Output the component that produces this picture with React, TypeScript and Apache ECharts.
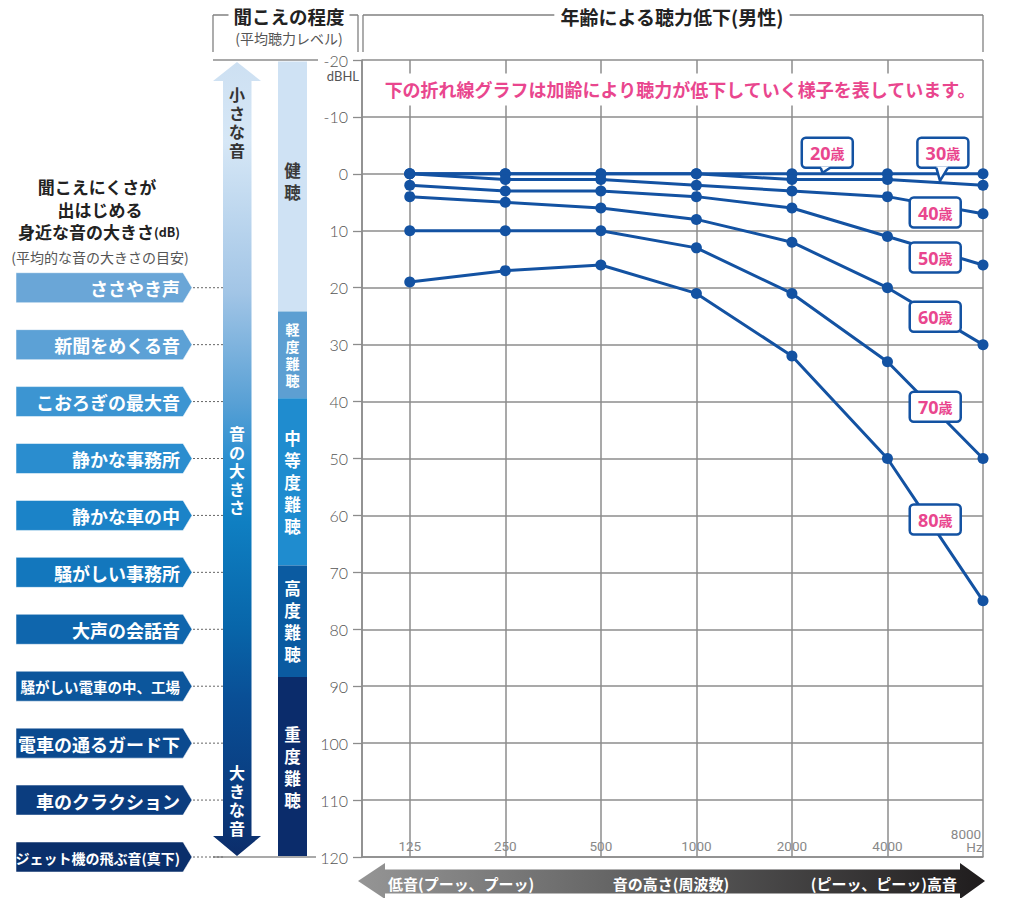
import React, { useEffect, useRef } from 'react';
import * as echarts from 'echarts';

// ---------- data ----------
const frequencies = ['125', '250', '500', '1000', '2000', '4000', '8000'];
const ageGroups = ['20歳', '30歳', '40歳', '50歳', '60歳', '70歳', '80歳'];
const hearing20 = [0, 0, 0, 0, 0, 0, 0];
const hearing30 = [0, 0, 0, 0, 1, 1, 2];
const hearing40 = [0, 1, 1, 2, 3, 4, 7];
const hearing50 = [2, 3, 3, 4, 6, 11, 16];
const hearing60 = [4, 5, 6, 8, 12, 20, 30];
const hearing70 = [10, 10, 10, 13, 21, 33, 50];
const hearing80 = [19, 17, 16, 21, 32, 50, 75];
const hearingSeries = [hearing20, hearing30, hearing40, hearing50, hearing60, hearing70, hearing80];

const yMin = -20;
const yMax = 120;
const yStep = 10;

// age label annotation positions (frequency index, dB)
const ageLabelFreq = [4.37, 5.58, 5.5, 5.5, 5.5, 5.5, 5.5];
const ageLabelDb = [-3.7, -3.7, 6.8, 14.7, 25.1, 40.9, 60.7];
const ageTipFreq = [4.32, 5.55];
const ageTipDb = [0, 1.4];

// everyday sound levels (dB)
const soundNames = [
  'ささやき声', '新聞をめくる音', 'こおろぎの最大音', '静かな事務所', '静かな車の中',
  '騒がしい事務所', '大声の会話音', '騒がしい電車の中、工場', '電車の通るガード下',
  '車のクラクション', 'ジェット機の飛ぶ音(真下)',
];
const soundLevels = [20, 30, 40, 50, 60, 70, 80, 90, 100, 110, 120];

// hearing level classes
const severityNames = ['健聴', '軽度難聴', '中等度難聴', '高度難聴', '重度難聴'];
const severityEdges = [-20, 24.2, 39.4, 68.8, 88.4, 120];

// ---------- styles ----------
const FONT = '"Noto Sans CJK JP", "Noto Sans", sans-serif';
const LINE_BLUE = '#1352a2';
const PINK = '#e9468e';
const GRID_GRAY = '#8c8c8c';
const soundColors = ['#6aa6d7', '#5ca1d6', '#3c95d2', '#2a8dcf', '#1b83c8', '#1377bd', '#0f66ad', '#0c569c', '#0b4a8f', '#0b3d7f', '#0a2f6b'];
const severityColors = ['#cfe2f4', '#5d9fd2', '#1f8ccf', '#0b5ba1', '#0b2c6b'];
const severityText = ['#3a3a3a', '#ffffff', '#ffffff', '#ffffff', '#ffffff'];
const severityLH = [22, 17, 22, 22, 22];
const severitySize = [16.5, 14, 16.5, 16.5, 16.5];

const T = (x: number, y: number, text: string, o: any = {}) => ({
  type: 'text',
  x,
  y,
  z: o.z ?? 20,
  style: {
    text,
    fill: o.fill ?? '#222',
    fontSize: o.size ?? 16,
    fontWeight: o.weight ?? 'bold',
    fontFamily: o.family ?? FONT,
    align: o.align ?? 'center',
    textAlign: o.align ?? 'center',
    verticalAlign: o.valign ?? 'middle',
    textVerticalAlign: o.valign ?? 'middle',
    lineHeight: o.lh,
    backgroundColor: o.bg,
    padding: o.pad,
    rich: o.rich,
  },
});

// vertical text: one element per character
const V = (x: number, cy: number, text: string, step: number, o: any = {}) => {
  const chars = text.split('');
  const y0 = cy - ((chars.length - 1) * step) / 2;
  return chars.map((c, i) => T(x, y0 + i * step, c, o));
};

const L = (x1: number, y1: number, x2: number, y2: number, o: any = {}) => ({
  type: 'line',
  z: o.z ?? 5,
  shape: { x1, y1, x2, y2 },
  style: { stroke: o.stroke ?? '#808080', lineWidth: o.w ?? 1.3, lineDash: o.dash },
});

export default function App() {
  const ref = useRef<HTMLDivElement>(null);

  useEffect(() => {
    if (!ref.current) return;
    const chart = echarts.init(ref.current, null, { renderer: 'svg' });

    const xCats: string[] = [];
    for (let i = 0; i < 14; i++) xCats.push(i % 2 === 1 ? frequencies[(i - 1) / 2] : '_' + i);

    const tickFont = '"Liberation Sans Narrow", Roboto, sans-serif';

    chart.setOption({
      animation: false,
      grid: { left: 362, right: 28, top: 60, bottom: 41, containLabel: false, outerBoundsMode: 'none' },
      xAxis: {
        type: 'category',
        data: xCats,
        boundaryGap: false,
        axisLine: { show: true, onZero: false, lineStyle: { color: GRID_GRAY, width: 1.5 } },
        axisTick: { show: false },
        splitLine: {
          show: true,
          interval: (i: number) => i % 2 === 1 || i === 0,
          lineStyle: { color: GRID_GRAY, width: 1.5 },
        },
        axisLabel: {
          inside: true,
          margin: 4,
          interval: (i: number) => i % 2 === 1,
          color: '#888',
          fontSize: 13.5,
          fontWeight: 'normal',
          fontFamily: tickFont,
          formatter: (v: string) => {
            if (v.startsWith('_')) return '';
            if (v === frequencies[frequencies.length - 1]) return '{a|' + v + '}\n{b|Hz}';
            return v;
          },
          rich: {
            a: { fontSize: 13.5, color: '#888', padding: [0, 34, 0, 0], lineHeight: 13, fontFamily: tickFont },
            b: { fontSize: 13.5, color: '#888', padding: [0, 17, 0, 0], lineHeight: 13, fontFamily: tickFont },
          },
        },
      },
      yAxis: {
        type: 'value',
        inverse: true,
        min: yMin,
        max: yMax,
        interval: yStep,
        axisLine: { show: true, lineStyle: { color: GRID_GRAY, width: 1.5 } },
        axisTick: { show: true, length: 9, lineStyle: { color: GRID_GRAY, width: 1.3 } },
        splitLine: { show: true, lineStyle: { color: GRID_GRAY, width: 1.5 } },
        axisLabel: { margin: 14, color: '#555', fontSize: 16, fontFamily: 'Lato, "Noto Sans", sans-serif', fontWeight: 300 },
      },
      series: ageGroups.map((name, k) => ({
        type: 'line',
        name,
        data: hearingSeries[k].map((v, i) => [2 * i + 1, v]),
        symbol: 'circle',
        symbolSize: 11,
        lineStyle: { color: LINE_BLUE, width: 3 },
        itemStyle: { color: LINE_BLUE },
        z: 3,
        silent: true,
      })),
    });

    const yPix = (v: number) => chart.convertToPixel({ yAxisIndex: 0 }, v) as number;
    const p1 = chart.convertToPixel({ xAxisIndex: 0 }, frequencies[0]) as number;
    const p3 = chart.convertToPixel({ xAxisIndex: 0 }, frequencies[1]) as number;
    const xPix = (f: number) => p1 + (p3 - p1) * f; // frequency index -> pixel

    const els: any[] = [];
    const yTop = yPix(yMin);
    const yBot = yPix(yMax);
    const plotLeft = xPix(-0.5);
    const plotRight = xPix(frequencies.length - 1);

    // ---------- headers ----------
    els.push(L(213, 15, 213, 52), L(213, 15, 358, 15), L(358, 15, 358, 52));
    els.push(T(289, 16, '聞こえの程度', { size: 18.5, bg: '#fff', pad: [0, 5], fill: '#222' }));
    els.push(T(289, 38, '(平均聴力レベル)', { size: 14, weight: 'normal', fill: '#555' }));
    els.push(L(plotLeft + 1, 15, plotLeft + 1, 52), L(plotLeft + 1, 15, plotRight, 15), L(plotRight, 15, plotRight, 52));
    els.push(T(672, 16, '年齢による聴力低下(男性)', { size: 19, bg: '#fff', pad: [0, 6], fill: '#222' }));

    // pink note
    els.push(T(680, (yTop + yPix(-10)) / 2 + 1, '下の折れ線グラフは加齢により聴力が低下していく様子を表しています。', {
      size: 18, fill: PINK, bg: '#fff', pad: [7, 3], z: 8,
    }));

    // dBHL unit
    els.push(T(359, yTop + 16, 'dBHL', { size: 13, weight: 'normal', fill: '#555', align: 'right', family: 'Lato, "Noto Sans", sans-serif' }));

    // left-side frame lines
    els.push(L(213, yTop, 318, yTop, { w: 1.5, stroke: GRID_GRAY }));
    els.push(L(213, yBot, 316, yBot, { w: 1.5, stroke: GRID_GRAY }));

    // ---------- left caption ----------
    els.push(T(97, 186, '聞こえにくさが', { size: 17 }));
    els.push(T(100, 209, '出はじめる', { size: 17 }));
    els.push(T(99, 231, '{a|身近な音の大きさ}{b|(dB)}', {
      rich: {
        a: { fontSize: 17, fontWeight: 'bold', fill: '#222', fontFamily: FONT },
        b: { fontSize: 12.5, fontWeight: 'bold', fill: '#222', fontFamily: FONT },
      },
    }));
    els.push(T(100, 257, '(平均的な音の大きさの目安)', { size: 14, weight: 'normal', fill: '#555' }));

    // ---------- sound level labels ----------
    soundNames.forEach((name, i) => {
      const cy = yPix(soundLevels[i]);
      els.push({
        type: 'polygon',
        z: 10,
        shape: { points: [[16, cy - 15], [183, cy - 15], [192, cy], [183, cy + 15], [16, cy + 15]] },
        style: { fill: soundColors[i], stroke: 'rgba(255,255,255,0.5)', lineWidth: 1 },
      });
      const size = name.length >= 13 ? 14 : name.length >= 11 ? 14.5 : 18;
      els.push(T(180, cy + 0.5, name, { size, fill: '#fff', align: 'right', z: 11 }));
      els.push(L(193, cy, 223, cy, { stroke: '#666', w: 1, dash: [2, 2] }));
    });

    // ---------- loudness arrow ----------
    const aTop = yTop + 2;
    const aBot = yBot - 1;
    els.push({
      type: 'polygon',
      z: 6,
      shape: {
        points: [
          [237, aTop], [261, aTop + 19], [251.5, aTop + 19], [251.5, aBot - 20], [261, aBot - 20],
          [237, aBot], [213, aBot - 20], [223, aBot - 20], [223, aTop + 19], [213, aTop + 19],
        ],
      },
      style: {
        fill: new echarts.graphic.LinearGradient(0, 0, 0, 1, [
          { offset: 0, color: '#cde0f2' },
          { offset: 0.1, color: '#d6e7f6' },
          { offset: 0.29, color: '#a2c5e6' },
          { offset: 0.43, color: '#58a0d5' },
          { offset: 0.5, color: '#2b8fd0' },
          { offset: 0.58, color: '#0f7fc2' },
          { offset: 0.71, color: '#0866aa' },
          { offset: 0.8, color: '#094f96' },
          { offset: 0.93, color: '#0a3b7e' },
          { offset: 1, color: '#0c2d6a' },
        ]),
      },
    });
    els.push(...V(237, 122, '小さな音', 18.5, { size: 16, fill: '#333' }));
    els.push(...V(237, 470, '音の大きさ', 18.5, { size: 16, fill: '#fff' }));
    els.push(...V(237, 800, '大きな音', 18.5, { size: 16, fill: '#fff' }));

    // ---------- severity column ----------
    severityNames.forEach((name, i) => {
      const y0 = i === 0 ? yTop + 1.5 : yPix(severityEdges[i]);
      const y1 = i === severityNames.length - 1 ? yBot - 1 : yPix(severityEdges[i + 1]);
      els.push({ type: 'rect', z: 6, shape: { x: 278, y: y0, width: 29, height: y1 - y0 }, style: { fill: severityColors[i] } });
      els.push(...V(292.5, (y0 + y1) / 2 - (i === 0 ? 6 : 0), name, severityLH[i], {
        size: severitySize[i], fill: severityText[i], z: 7,
      }));
    });

    // ---------- frequency arrow ----------
    els.push({
      type: 'polygon',
      z: 6,
      shape: {
        points: [
          [358, 881], [385, 863], [385, 869.5], [960, 869.5], [960, 863], [985, 881],
          [960, 899], [960, 893.5], [385, 893.5], [385, 899],
        ],
      },
      style: {
        fill: new echarts.graphic.LinearGradient(0, 0, 1, 0, [
          { offset: 0, color: '#959595' },
          { offset: 0.5, color: '#5a5a5a' },
          { offset: 1, color: '#1f1c1d' },
        ]),
      },
    });
    els.push(T(388, 883, '低音(プーッ、プーッ)', { size: 15, fill: '#fff', align: 'left', z: 7 }));
    els.push(T(671, 883, '音の高さ(周波数)', { size: 15, fill: '#fff', z: 7 }));
    els.push(T(957, 883, '(ピーッ、ピーッ)高音', { size: 15, fill: '#fff', align: 'right', z: 7 }));

    // ---------- age callouts ----------
    ageGroups.forEach((name, k) => {
      const cx = xPix(ageLabelFreq[k]);
      const cy = yPix(ageLabelDb[k]);
      const w = 51;
      const h = 30;
      els.push({
        type: 'rect',
        z: 30,
        shape: { x: cx - w / 2, y: cy - h / 2, width: w, height: h, r: 4 },
        style: { fill: '#fff', stroke: LINE_BLUE, lineWidth: 2.5 },
      });
      if (k < ageTipFreq.length) {
        const tx = xPix(ageTipFreq[k]);
        const ty = yPix(ageTipDb[k]) - 1;
        const by = cy + h / 2;
        const bx1 = cx - 6.5;
        const bx2 = cx + (k === 0 ? 3 : 5);
        els.push({ type: 'polygon', z: 31, shape: { points: [[bx1, by - 1.4], [tx, ty], [bx2, by - 1.4]] }, style: { fill: '#fff' } });
        els.push({ type: 'polyline', z: 32, shape: { points: [[bx1, by], [tx, ty], [bx2, by]] }, style: { stroke: LINE_BLUE, lineWidth: 2.5, fill: null } });
      }
      const num = name.replace('歳', '');
      els.push(T(cx, cy + 0.5, '{n|' + num + '}{s|歳}', {
        z: 33,
        rich: {
          n: { fontSize: 18, fontWeight: 'bold', fill: PINK, fontFamily: '"Noto Sans", sans-serif' },
          s: { fontSize: 14, fontWeight: 'bold', fill: PINK, fontFamily: FONT },
        },
      }));
    });

    chart.setOption({ graphic: { elements: els } });

    return () => chart.dispose();
  }, []);

  return <div ref={ref} style={{ position: 'fixed', left: 0, top: 0, width: 1011, height: 898, background: '#fff' }} />;
}
